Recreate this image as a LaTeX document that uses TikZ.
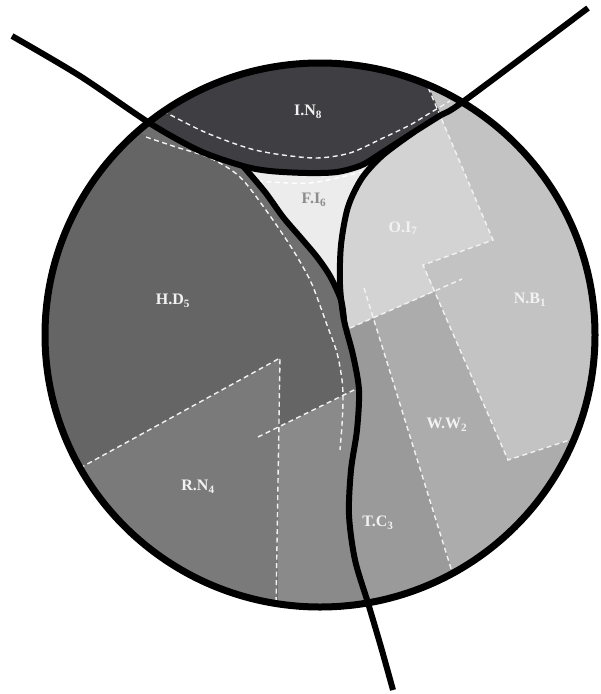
\documentclass[tikz,border=0pt]{standalone}
\usepackage{fontspec}
\newfontfamily\lblfont{Liberation Serif}
\usepackage{xcolor}
\definecolor{cIN}{HTML}{3E3E43}
\definecolor{cFI}{HTML}{ECECEC}
\definecolor{cHD}{HTML}{656565}
\definecolor{cHS}{HTML}{6F6F6F}
\definecolor{cRN}{HTML}{7A7A7A}
\definecolor{cTL}{HTML}{8A8A8A}
\definecolor{cTR}{HTML}{9A9A9A}
\definecolor{cWW}{HTML}{ACACAC}
\definecolor{cNB}{HTML}{C3C3C3}
\definecolor{cOI}{HTML}{D3D3D3}
\definecolor{cTXT}{HTML}{F2F2F2}
\tikzset{
  wdash/.style={draw=cTXT, line width=1.4pt, dash pattern=on 5pt off 3.5pt},
  blackline/.style={draw=black, line width=6pt, line join=round},
  lbl/.style={font=\lblfont\fontsize{16}{18}\selectfont\bfseries, text=cTXT, inner sep=0pt},
}
\begin{document}
\begin{tikzpicture}[x=1pt,y=-1pt]
\useasboundingbox (0,0) rectangle (601,694);
\fill[white] (0,0) rectangle (601,694);
\begin{scope}
  \clip (320,335) ellipse [x radius=275pt, y radius=272pt];
  % base H.D
  \fill[cHD] (0,0) rectangle (601,694);
  % H.D strip
  \fill[cHS] plot[smooth] coordinates {(140,133) (176,147) (210,158) (240,177) (268,213) (293,250) (310,280) (318,300) (327,325) (337,353) (342,380) (343,400) (342,425) (340,450)} -- (420,450) -- (420,40) -- (140,40) -- cycle;
  % R.N
  \fill[cRN] (0,512) -- (280,358) -- (276,700) -- (0,700) -- cycle;
  % T.C left
  \fill[cTL] (279,427) -- (420,358) -- (420,700) -- (277,700) -- cycle;
  % right of the central line
  \begin{scope}
    \clip plot[smooth] coordinates {(414,132) (383,155) (362,178) (348,207) (341,245) (340,285) (344,320) (353,355) (359,390) (357,430) (351,470) (349,515) (355,560) (368,603) (381,647) (393,690)} -- (393,710) -- (620,710) -- (620,-20) -- (414,-20) -- cycle;
    \fill[cTR] (300,0) rectangle (620,700);
    \fill[cWW] (355,260) -- (497,712) -- (620,712) -- (620,250) -- cycle;
    \fill[cNB] (404,30) -- (493,240) -- (423,265) -- (508,460) -- (620,423) -- (620,30) -- cycle;
    \fill[cOI] (404,30) -- (493,240) -- (423,265) -- (435,291) -- (350,328) -- (300,350) -- (300,30) -- cycle;
  \end{scope}
  % F.I
  \fill[cFI] plot[smooth] coordinates {(243,166) (265,192) (283,217) (301,238) (317,257) (330,276) (341,300)} -- plot[smooth] coordinates {(341,300) (340,285) (341,245) (348,207) (362,178) (383,155)} -- plot[smooth] coordinates {(383,155) (362,165) (337,172) (307,173) (270,170) (243,166)} -- cycle;
  % I.N
  \fill[cIN] plot[smooth] coordinates {(12,36) (80,76) (151,124) (200,151) (243,166) (270,171) (307,173) (337,172) (362,165) (383,152) (414,132) (441,115)} -- (404,30) -- (0,30) -- cycle;
  % dashed outlines
  \draw[wdash] plot[smooth] coordinates {(163,111) (200,130) (230,142) (255,150) (283,155) (317,158) (350,153) (383,138) (410,125) (430,113) (450,101)};
  \draw[wdash] plot[smooth] coordinates {(146,137) (176,147) (210,158) (240,177) (268,213) (293,250) (310,280) (318,300) (327,325) (337,353) (342,380) (343,400) (342,425) (340,450)};
  \draw[wdash] (80,468) -- (280,358) -- (276,606);
  \draw[wdash] (258,437) -- (356,389);
  \draw[wdash] (350,328) -- (462,279);
  \draw[wdash] (364,288) -- (453,575);
  \draw[wdash] (425,80) -- (493,240) -- (423,265) -- (508,460) -- (576,438);
  \draw[wdash, draw=white] plot[smooth] coordinates {(258,181) (310,183) (362,172)};
\end{scope}
% black lines
\draw[blackline, line width=7pt] (320,335) ellipse [x radius=275pt, y radius=272pt];
\draw[blackline] plot[smooth] coordinates {(12,36) (80,76) (151,124) (200,151) (243,166) (270,171) (307,173) (337,172) (362,165) (383,152) (414,132) (441,115) (464,101) (588,8)};
\draw[blackline] plot[smooth] coordinates {(414,132) (383,155) (362,178) (348,207) (341,245) (340,285) (344,320) (353,355) (359,390) (357,430) (351,470) (349,515) (355,560) (368,603) (381,647) (393,690)};
\draw[blackline] plot[smooth] coordinates {(243,166) (265,192) (283,217) (301,238) (317,257) (330,276) (341,300) (344,320)};
% labels
\node[lbl] (lIN) at (308,112) {I.N\textsubscript{8}};
\node[lbl, text=black!45] (lFI) at (314,200) {F.I\textsubscript{6}};
\node[lbl] (lOI) at (403,228) {O.I\textsubscript{7}};
\node[lbl] (lHD) at (173,301) {H.D\textsubscript{5}};
\node[lbl] (lNB) at (530,300) {N.B\textsubscript{1}};
\node[lbl] (lWW) at (447,425) {W.W\textsubscript{2}};
\node[lbl] (lRN) at (198,487) {R.N\textsubscript{4}};
\node[lbl] (lTC) at (378,523) {T.C\textsubscript{3}};
\end{tikzpicture}
\end{document}
